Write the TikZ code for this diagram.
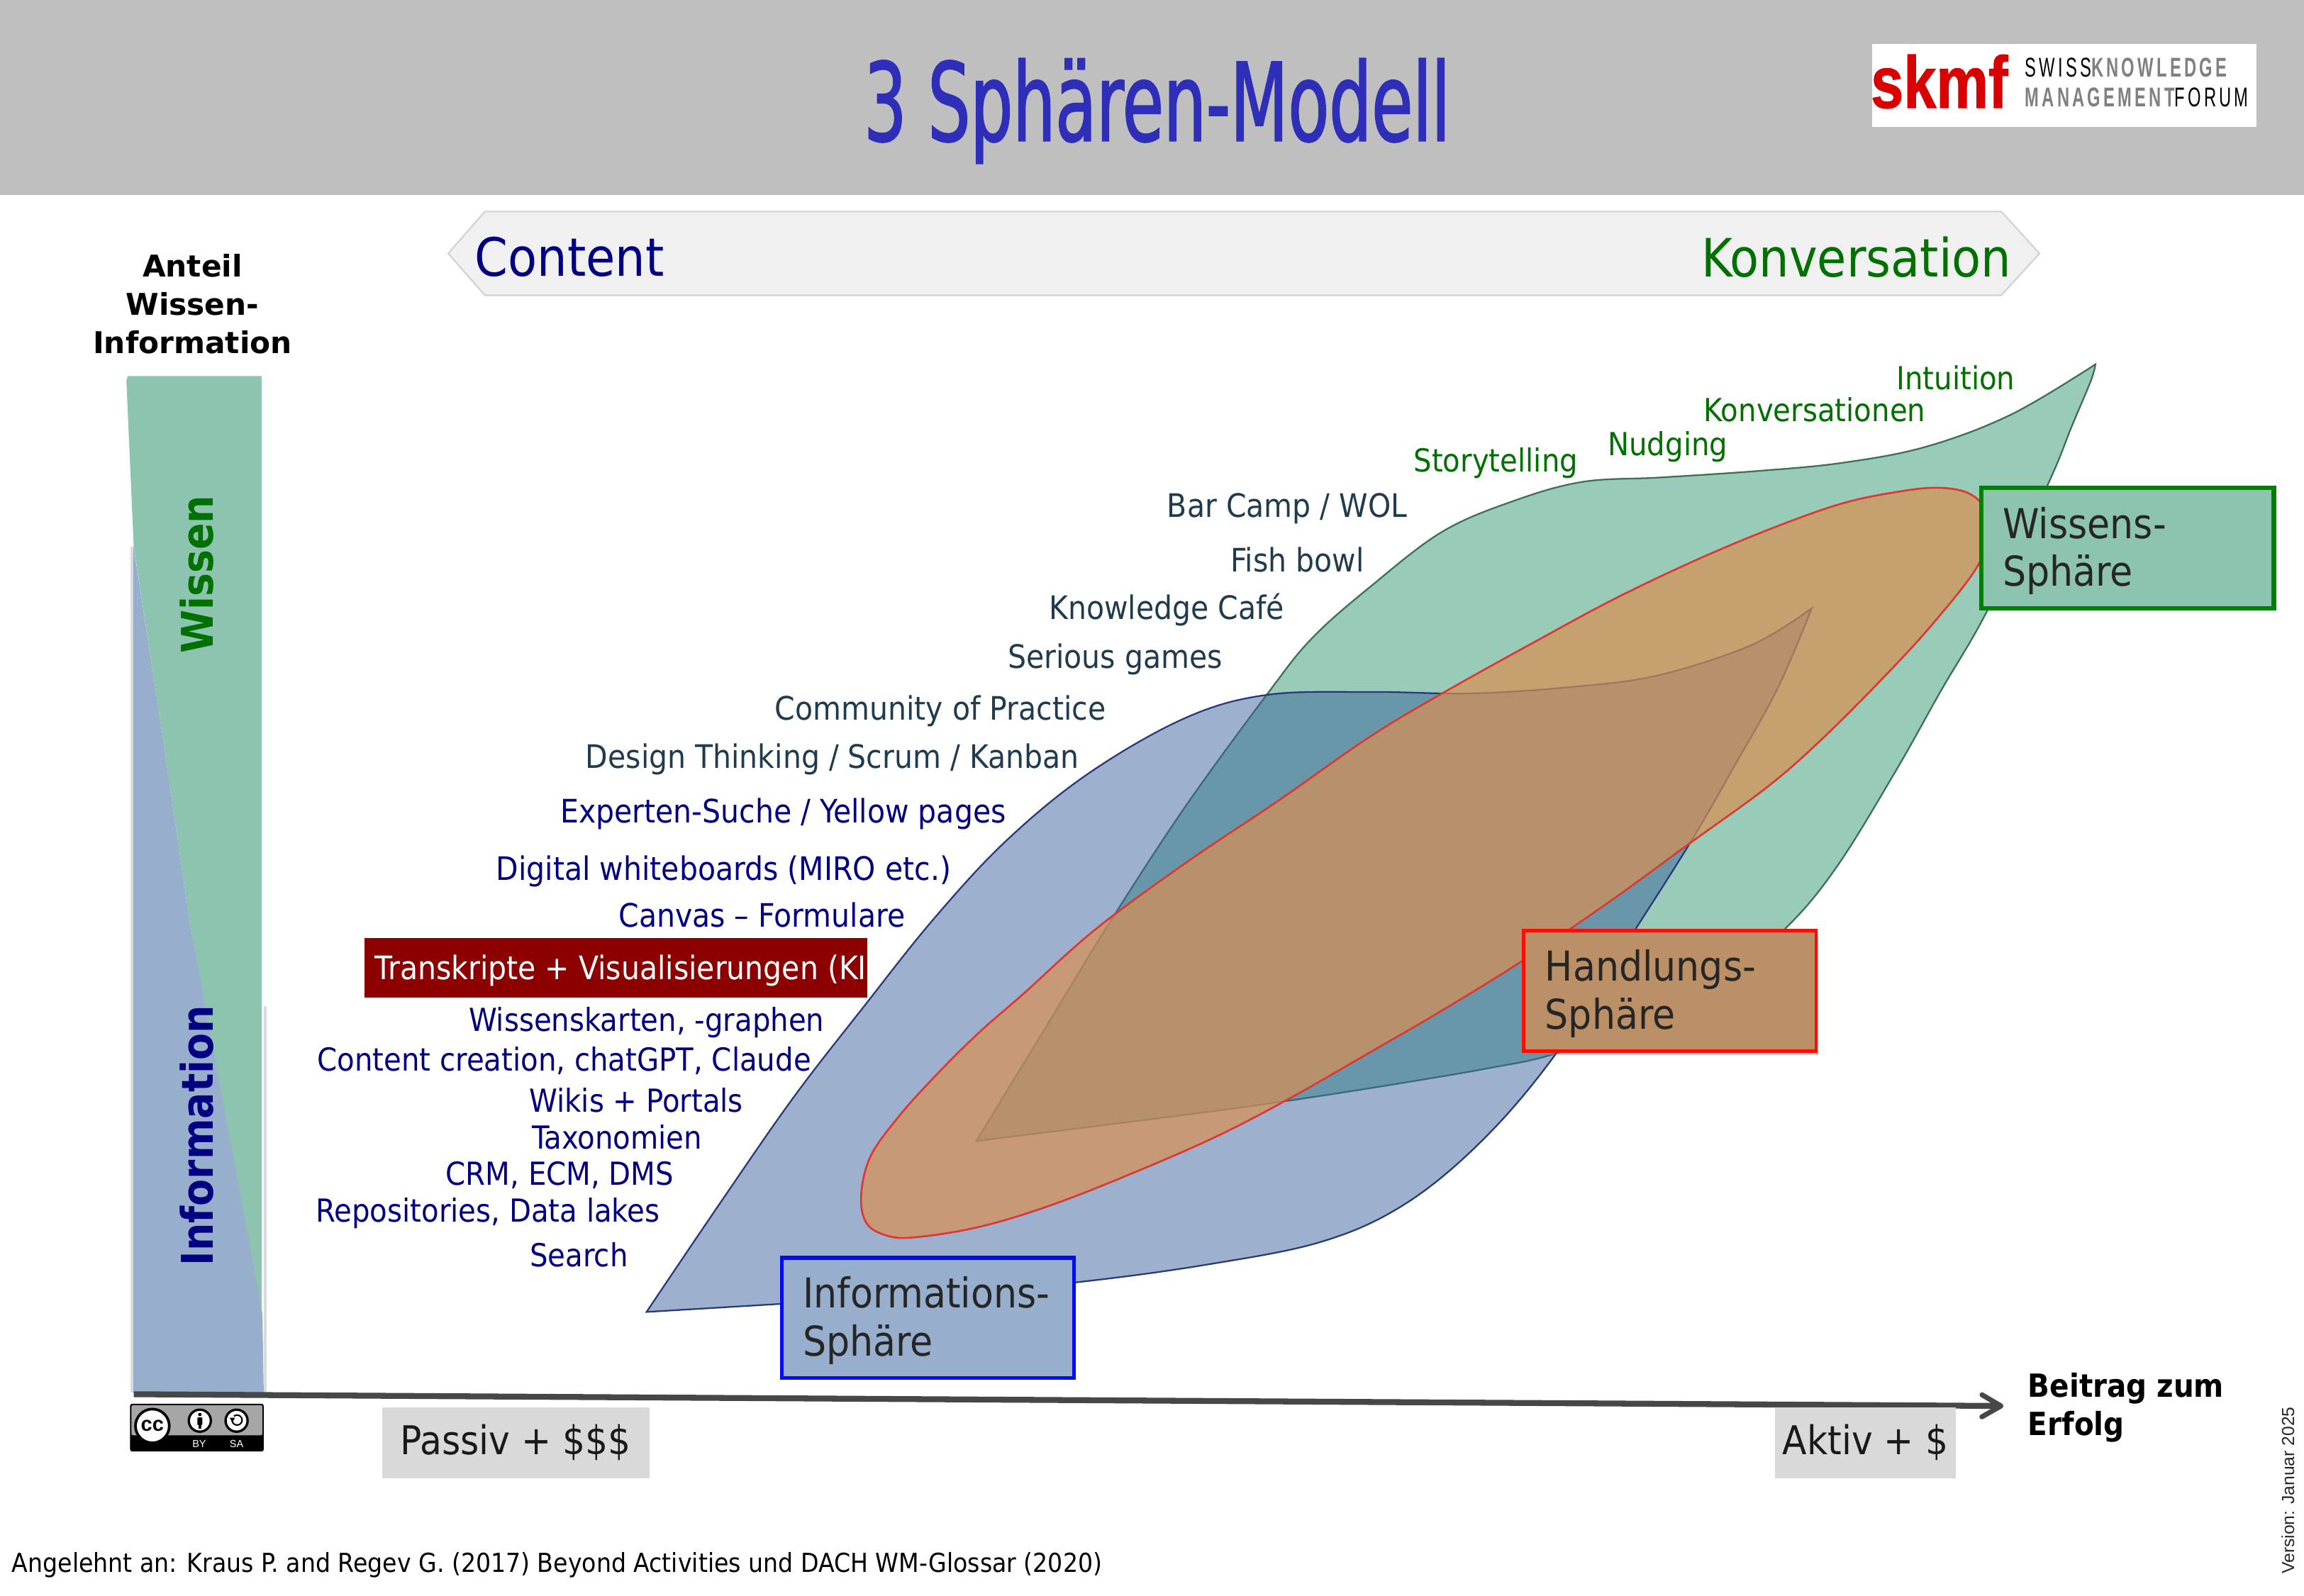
\documentclass[tikz,border=0pt]{standalone}
\usepackage{fontspec}
\setmainfont{DejaVu Sans Condensed}
\newfontfamily\widefont{DejaVu Sans}
\newfontfamily\titlefont[FakeStretch=0.685,FakeBold=1.2]{DejaVu Sans Condensed}
\newfontfamily\logofont[FakeStretch=0.62,LetterSpace=11]{Liberation Sans}
\newfontfamily\smallfont{Liberation Sans}
\usetikzlibrary{arrows.meta,shadows}

\definecolor{navyitem}{HTML}{000080}
\definecolor{greenitem}{HTML}{007000}
\definecolor{darkitem}{HTML}{1F3B4D}
\definecolor{barwissen}{HTML}{8CC4B0}
\definecolor{barinfo}{HTML}{97AFCC}
\definecolor{leafgreen}{HTML}{319971}
\definecolor{leafblue}{HTML}{3B639D}
\definecolor{leaforange}{HTML}{D98F52}
\definecolor{boxorange}{HTML}{BC9066}
\definecolor{titleblue}{HTML}{2E2EB8}
\definecolor{edgegreen}{HTML}{3F7055}
\definecolor{edgeblue}{HTML}{2A3A78}
\definecolor{edgered}{HTML}{DB3A34}

\tikzset{
	item/.style={inner sep=0pt, font=\fontsize{21.6}{26}\selectfont},
	bigitem/.style={inner sep=0pt, font=\fontsize{22}{26}\selectfont},
	blueitem/.style={item, text=navyitem},
	greenitem/.style={item, text=greenitem},
	darkitem/.style={bigitem, text=darkitem},
	spherebox/.style={draw, minimum width=199pt, minimum height=82pt, inner sep=0pt,
		text width=170pt, align=left, text=black!85, font=\fontsize{28}{32.5}\selectfont,
		execute at begin node={\rule{0pt}{25pt}}},
	boldlabel/.style={inner sep=0pt, font=\widefont\bfseries\fontsize{20.4}{26}\selectfont},
	barlabel/.style={inner sep=0pt, rotate=90, font=\bfseries\fontsize{29.7}{36}\selectfont},
	pricebox/.style={fill=black!15, minimum height=48pt, inner sep=0pt, text=black!90, font=\fontsize{27}{32}\selectfont},
	bannertext/.style={inner sep=0pt, font=\fontsize{36}{40}\selectfont},
	logotext/.style={inner sep=0pt, anchor=base west, font=\logofont\fontsize{18.5}{20}\selectfont},
}

\begin{document}
\begin{tikzpicture}[x=1pt, y=-1pt]
	%%%%% START %%%%%
	\useasboundingbox (0, 0) rectangle (1568, 1086);

	% header
	\fill[black!25] (0, 0) rectangle (1568, 132.5);
	\node[inner sep=0pt, text=titleblue] (title) at (787.5, 75.5) {\titlefont\fontsize{74}{80}\selectfont 3 Sphären-Modell};
	\fill[white] (1274, 30) rectangle (1535.5, 86.5);
	\node[logotext, text=red!85!black, font=\smallfont\bfseries\fontsize{50}{50}\selectfont] (logoname) at (1273, 73.4) {\addfontfeature{FakeStretch=0.8,FakeBold=1}skmf};
	\node[logotext] (logoswiss) at (1378, 52.2) {SWISS\textcolor{black!50}{\bfseries KNOWLEDGE}};
	\node[logotext] (logoforum) at (1378, 72.4) {\textcolor{black!50}{\bfseries MANAGEMENT}FORUM};

	% banner
	\draw[fill=black!6, draw=black!18, line width=1pt] (305, 172.5) -- (330, 144) -- (1362, 144) -- (1388, 172.5) -- (1362, 201) -- (330, 201) -- cycle;
	\node[bannertext, text=navyitem, anchor=west] (content) at (323, 175) {Content};
	\node[bannertext, text=greenitem, anchor=east] (konversation) at (1369, 175) {Konversation};

	% bar
	\node[boldlabel, align=center] (anteil) at (131, 207) {Anteil\\Wissen-\\Information};
	\fill[black!14] (88.8, 372) rectangle (90.7, 948);
	\fill[black!14] (179.5, 685) rectangle (181.5, 948);
	\fill[barwissen] (86, 259) -- (87, 256) -- (178, 256) -- (178, 895) -- (129, 627) -- (108, 483) -- (91, 372) -- cycle;
	\fill[barinfo] (90.7, 371) -- (108, 483) -- (129, 627) -- (178.6, 894) -- (179.5, 948) -- (90.7, 948) -- cycle;
	\node[barlabel, text=greenitem] (wissen) at (134, 391) {Wissen};
	\node[barlabel, text=navyitem] (information) at (134, 773) {Information};

	% leaves
	\draw[fill=leafgreen, fill opacity=0.5, draw=edgegreen, line width=1.1pt]
		plot[smooth, tension=0.6] coordinates {(1426, 248) (1369, 282) (1311, 304) (1254, 315) (1196, 320.6) (1130, 325) (1077, 328) (1030, 341) (981.4, 362) (933, 399) (892.9, 434.4) (862, 473) (806, 550) (754.5, 629) (710, 702) (664.5, 776.6)}
		-- plot[smooth, tension=0.6] coordinates {(664.5, 776.6) (750, 766) (820.5, 757) (878.4, 749) (949, 738) (1013.5, 727) (1057, 717.6) (1120, 695) (1170, 668) (1215, 632) (1250, 590) (1290, 525) (1321, 470) (1352, 416.5) (1394, 329) (1410, 290) (1423, 259) (1426, 248)} -- cycle;
	\draw[fill=leafblue, fill opacity=0.5, draw=edgeblue, line width=1.1pt]
		plot[smooth, tension=0.6] coordinates {(440, 893) (490, 819) (540, 747) (588, 685) (635, 626) (684, 573) (740, 527) (806, 489) (862, 473) (933, 471) (1000, 472) (1065, 468) (1127, 460) (1192, 439) (1233, 414)}
		-- plot[smooth, tension=0.6] coordinates {(1233, 414) (1210, 468) (1180, 522) (1150, 574) (1105, 645) (1058.6, 717.6) (1010, 775) (957, 819) (900, 845) (820, 861) (731, 873) (640, 881) (540, 887) (440, 893)} -- cycle;
	\draw[fill=leaforange, fill opacity=0.7, draw=edgered, line width=1.3pt]
		plot[smooth cycle, tension=0.6] coordinates {(586, 815) (592, 788) (610, 762) (634, 735) (665, 704) (697, 676) (745, 633) (806, 588) (870, 545) (931.5, 502) (981.4, 472) (1047, 435.5) (1100, 407) (1157, 380) (1210, 358) (1254, 342.6) (1290, 335) (1317, 332) (1338, 335) (1350, 345) (1352, 360) (1346, 385) (1315, 425) (1280, 463) (1240, 503) (1203.6, 535) (1150, 574) (1095, 614) (1036, 654) (981.4, 687.8) (933, 715.9) (875.2, 749) (820.5, 777) (746.4, 808.5) (698.2, 826.1) (659.6, 836.6) (622.5, 842.2) (604.9, 841.4) (590.3, 833.4)};

	% labels green
	\node[greenitem] (intuition) at (1331, 257) {Intuition};
	\node[greenitem] (konversationen) at (1235, 279) {Konversationen};
	\node[greenitem] (nudging) at (1135, 304) {Nudging};
	\node[greenitem] (storytelling) at (1018, 315) {Storytelling};

	% labels dark
	\node[darkitem] (barcamp) at (876, 346) {Bar Camp / WOL};
	\node[darkitem] (fishbowl) at (883, 381) {Fish bowl};
	\node[darkitem] (cafe) at (794, 415) {Knowledge Café};
	\node[darkitem] (serious) at (759, 449) {Serious games};
	\node[darkitem] (community) at (640, 484) {Community of Practice};
	\node[darkitem] (design) at (566.5, 517) {Design Thinking / Scrum / Kanban};

	% labels blue
	\node[bigitem, text=navyitem] (experten) at (533, 554) {Experten-Suche / Yellow pages};
	\node[bigitem, text=navyitem] (digital) at (492.5, 593) {Digital whiteboards (MIRO etc.)};
	\node[bigitem, text=navyitem] (canvas) at (518.5, 623) {Canvas – Formulare};
	\fill[red!55!black] (248, 638.7) rectangle (590, 679);
	\node[bigitem, text=white, anchor=west] (transkripte) at (255, 660.5) {Transkripte + Visualisierungen (KI)};
	\node[blueitem] (karten) at (440, 696) {Wissenskarten, -graphen};
	\node[blueitem] (creation) at (384, 722) {Content creation, chatGPT, Claude};
	\node[blueitem] (wikis) at (433, 749) {Wikis + Portals};
	\node[blueitem] (taxonomien) at (420, 774) {Taxonomien};
	\node[blueitem] (crm) at (381, 800) {CRM, ECM, DMS};
	\node[blueitem] (repos) at (332, 826) {Repositories, Data lakes};
	\node[blueitem] (search) at (394, 854) {Search};

	% boxes
	\node[spherebox, line width=2.7pt, draw=blue!95!green, fill=barinfo] (infobox) at (631.5, 897) {Informations-\\Sphäre};
	\node[spherebox, line width=2.2pt, draw=red!90!orange, fill=boxorange, drop shadow={opacity=0.35, shadow xshift=1.5pt, shadow yshift=-2.5pt}] (actionbox) at (1136.5, 674.5) {Handlungs-\\Sphäre};
	\node[spherebox, line width=3pt, draw=green!50!black, fill=barwissen] (knowbox) at (1448, 373) {Wissens-\\Sphäre};

	% axis
	\coordinate (axisstart) at (91, 949);
	\coordinate (axisend) at (1363.5, 957);
	\draw[line width=4pt, color=black!72, -{Straight Barb[length=13pt, width=15pt, line width=3.4pt, round]}] (axisstart) -- (axisend);
	\node[boldlabel, align=left, anchor=west, font=\bfseries\fontsize{21.7}{26}\selectfont] (beitrag) at (1380, 958) {Beitrag zum\\Erfolg};
	\node[pricebox, minimum width=182pt] (passiv) at (351, 982) {Passiv + \$\$\$};
	\node[pricebox, minimum width=123pt] (aktiv) at (1269.5, 982) {Aktiv + \$};

	% cc badge
	\fill[black, rounded corners=1.5pt] (88.5, 955.5) rectangle (179.5, 988);
	\fill[black!35, rounded corners=1pt] (89.5, 956.5) rectangle (178.5, 977);
	\draw[fill=white, draw=black, line width=1.8pt] (103.7, 970.6) circle (11.5);
	\node[inner sep=0pt, font=\smallfont\bfseries\fontsize{14}{14}\selectfont] (ccmark) at (103.7, 970.6) {cc};
	\draw[fill=white, draw=black, line width=1.6pt] (136, 967) circle (7.5);
	\fill[black] (136, 962.8) circle (1.2);
	\fill[black, rounded corners=0.5pt] (134.3, 964.8) rectangle (137.7, 970);
	\fill[black] (135, 970) rectangle (137, 972.5);
	\draw[fill=white, draw=black, line width=1.6pt] (161, 967) circle (7.5);
	\draw[line width=1pt] (158, 966) arc (190:-130:3.4);
	\fill[black] (156.3, 965) -- (160, 965) -- (158.1, 968) -- cycle;
	\node[inner sep=0pt, text=white, font=\smallfont\fontsize{7}{7}\selectfont] (ccby) at (135.6, 983) {BY};
	\node[inner sep=0pt, text=white, font=\smallfont\fontsize{7}{7}\selectfont] (ccsa) at (161, 983) {SA};

	% footer
	\node[inner sep=0pt, anchor=west, font=\fontsize{17.8}{22}\selectfont] (source) at (8, 1065.5) {Angelehnt an: Kraus P. and Regev G. (2017) Beyond Activities und DACH WM-Glossar (2020)};
	\node[inner sep=0pt, rotate=90, font=\smallfont\fontsize{11.9}{13}\selectfont, text=black!85] (version) at (1557, 1014.5) {Version: Januar 2025};
	%%%%% END %%%%%
\end{tikzpicture}
\end{document}
